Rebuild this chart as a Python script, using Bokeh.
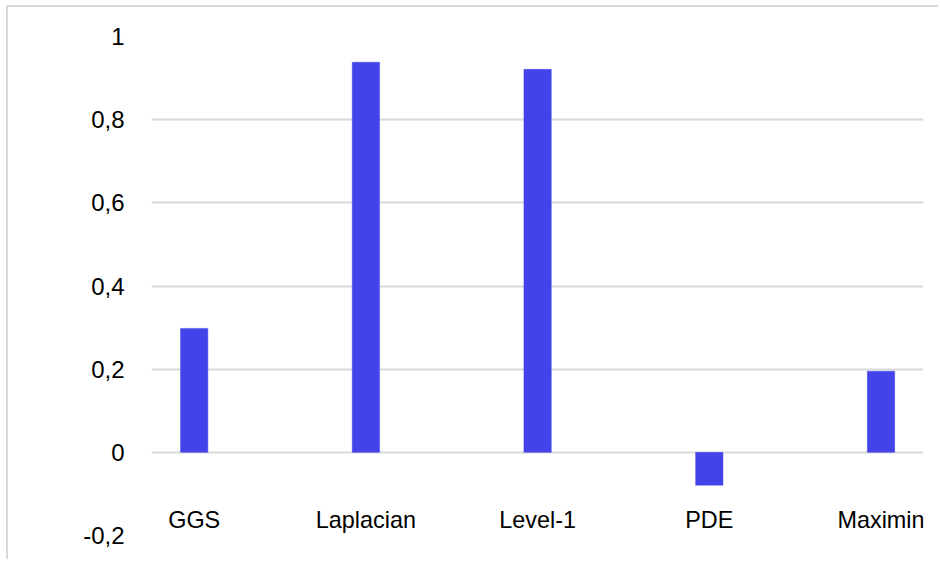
from bokeh.plotting import figure
from bokeh.models import ColumnDataSource, Range1d, CustomJSTickFormatter, FixedTicker
from bokeh.core.properties import value
from bokeh.embed import file_html
from bokeh.resources import INLINE

categories = ["GGS", "Laplacian", "Level-1", "PDE", "Maximin"]
values = [0.298, 0.938, 0.921, -0.079, 0.195]
y_ticks = [-0.2, 0, 0.2, 0.4, 0.6, 0.8, 1]

positions = list(range(len(categories)))
src = ColumnDataSource(dict(x=positions, top=values, cat=categories,
                            ly=[-0.1635] * len(categories)))

FONT = "Liberation Sans"
BAR = "#4343EA"

p = figure(width=932, height=554, output_backend="svg", toolbar_location=None,
           x_range=Range1d(-0.2487, 4.2475), y_range=Range1d(-0.2, 1.0),
           min_border_left=143, min_border_right=17, min_border_top=29,
           min_border_bottom=26)
p.styles = {"margin-left": "6px", "margin-top": "5px",
            "border-left": "2px solid #d9d9d9", "border-top": "2px solid #d9d9d9"}

p.vbar(x="x", top="top", bottom=0, width=0.159, source=src,
       fill_color=BAR, line_color=BAR, line_width=0.5)
p.text(x="x", y="ly", text="cat", source=src, text_align="center",
       text_baseline="alphabetic", text_font=value(FONT),
       text_font_size="23.4px", text_color="#000000")

p.outline_line_color = None
p.background_fill_color = "white"
p.border_fill_color = "white"

p.xaxis.visible = False
p.xgrid.visible = False

p.yaxis.ticker = FixedTicker(ticks=y_ticks)
p.yaxis.formatter = CustomJSTickFormatter(code="""
    var r = Math.round(tick * 10) / 10;
    return String(r).replace('.', ',');
""")
p.yaxis.axis_line_color = None
p.yaxis.major_tick_line_color = None
p.yaxis.minor_tick_line_color = None
p.yaxis.major_label_standoff = 21
p.yaxis.major_label_text_font = FONT
p.yaxis.major_label_text_font_size = "24px"
p.yaxis.major_label_text_color = "#000000"

p.ygrid.ticker = FixedTicker(ticks=y_ticks)
p.ygrid.grid_line_color = "#d9d9d9"
p.ygrid.grid_line_width = 2

open("out.html", "w").write(file_html(p, INLINE))
